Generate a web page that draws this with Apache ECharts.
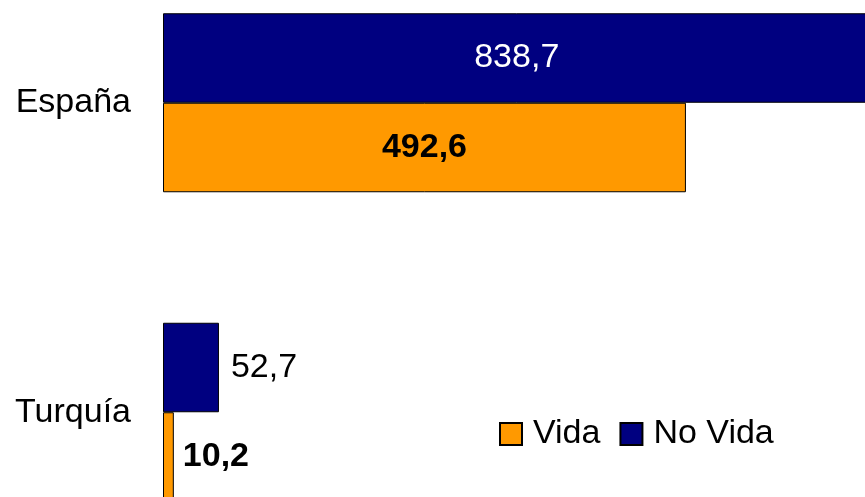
<!DOCTYPE html>
<html>
<head>
<meta charset="utf-8">
<script src="https://cdn.jsdelivr.net/npm/echarts@6/dist/echarts.min.js"></script>
<style>
html,body{margin:0;padding:0;background:#fff;overflow:hidden;width:865px;height:497px;}
#wrap{position:relative;width:865px;height:497px;overflow:hidden;}
#c{position:absolute;left:0;top:-52px;width:870px;height:619px;}
</style>
</head>
<body>
<div id="wrap"><div id="c"></div></div>
<script>
var categories = ['Turquía', 'España'];
var vida = [10.2, 492.6];
var noVida = [52.7, 838.7];
var seriesNames = ['Vida', 'No Vida'];

var FONT = '"Liberation Sans", Arial, sans-serif';
function fmt(p) { return String(p.value).replace('.', ','); }

var chart = echarts.init(document.getElementById('c'));
chart.setOption({
  animation: false,
  backgroundColor: '#ffffff',
  grid: { left: 163, right: 0, top: 0, bottom: 0, containLabel: false },
  xAxis: { type: 'value', min: 0, max: 666, show: false },
  yAxis: {
    type: 'category', data: categories,
    axisLine: { show: false }, axisTick: { show: false },
    axisLabel: { fontSize: 34, color: '#000', fontFamily: FONT, margin: 32 }
  },
  legend: {
    data: seriesNames,
    left: 494, top: 464,
    icon: 'rect', itemWidth: 22, itemHeight: 22, itemGap: 19,
    textStyle: { fontSize: 34, color: '#000', fontFamily: FONT, padding: [0, 0, 0, 6] }
  },
  series: [
    {
      name: seriesNames[1], type: 'bar',
      data: [noVida[0], { value: noVida[1], label: { position: 'inside', color: '#fff', offset: [0, 0] } }],
      barWidth: 89.5, barGap: '0%',
      itemStyle: { color: '#000080', borderColor: '#000', borderWidth: 1 },
      label: {
        show: true, formatter: fmt, fontSize: 34, color: '#000', fontFamily: FONT,
        position: 'right', distance: 12
      }
    },
    {
      name: seriesNames[0], type: 'bar',
      data: [vida[0], { value: vida[1], label: { position: 'inside' } }],
      barWidth: 89.5, barGap: '0%',
      itemStyle: { color: '#FF9900', borderColor: '#000', borderWidth: 1 },
      label: {
        show: true, formatter: fmt, fontSize: 34, fontWeight: 'bold', color: '#000', fontFamily: FONT,
        position: 'right', distance: 9
      }
    }
  ]
});
</script>
</body>
</html>
